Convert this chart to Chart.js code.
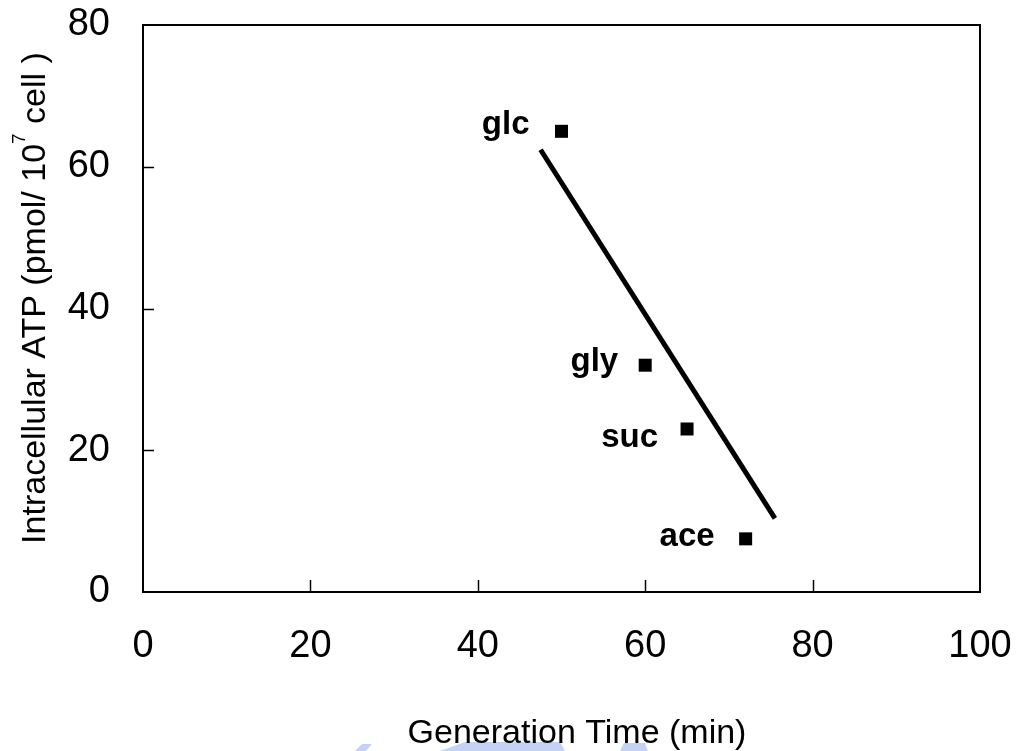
<!DOCTYPE html>
<html><head><meta charset="utf-8">
<script src="https://cdn.jsdelivr.net/npm/chart.js@4"></script>
<style>html,body{margin:0;padding:0;background:#fff;}#wrap{width:1017px;height:751px;}</style>
</head><body><div id="wrap"><canvas id="c" width="1017" height="751"></canvas></div>
<script>
// ---- data ----
const categories = ['glc', 'gly', 'suc', 'ace'];
const generationTime = [50, 60, 65, 72];
const intracellularATP = [65, 32, 23, 7.5];
const trendX = [47.5, 75.5];
const trendY = [62.4, 10.4];
const xTickValues = [0, 20, 40, 60, 80, 100];
const yTickValues = [0, 20, 40, 60, 80];
const xTitle = 'Generation Time (min)';
const yTitleParts = ['Intracellular ATP (pmol/ 10', '7', ' cell )'];

// ---- styling / placement (not data) ----
const FONT = '"Liberation Sans", Arial, sans-serif';
const labelOffsets = [[-32, 3], [-27, 6], [-29, 18], [-31, 7]];

const pointData = generationTime.map((x, i) => ({ x: x, y: intracellularATP[i] }));
const trendData = trendX.map((x, i) => ({ x: x, y: trendY[i] }));

function zeroPad(s) { s.paddingTop = 0; s.paddingBottom = 0; s.paddingLeft = 0; s.paddingRight = 0; }

const decorPlugin = {
  id: 'decor',
  beforeDraw(chart) {
    const ctx = chart.ctx;
    ctx.save();
    ctx.fillStyle = '#fff';
    ctx.fillRect(0, 0, chart.width, chart.height);
    // faint watermark at bottom
    ctx.fillStyle = 'rgba(140,165,228,0.5)';
    ctx.beginPath();
    ctx.moveTo(355, 751); ctx.lineTo(362, 744); ctx.lineTo(372, 744); ctx.lineTo(366, 751); ctx.closePath(); ctx.fill();
    ctx.beginPath();
    ctx.moveTo(440, 751); ctx.lineTo(465, 742); ctx.lineTo(560, 742); ctx.lineTo(565, 751); ctx.closePath(); ctx.fill();
    ctx.beginPath();
    ctx.moveTo(620, 751); ctx.lineTo(624, 743); ctx.lineTo(645, 743); ctx.lineTo(648, 751); ctx.closePath(); ctx.fill();
    ctx.restore();
  },
  afterDraw(chart) {
    const { ctx, chartArea: a } = chart;
    const xs = chart.scales.x, ys = chart.scales.y;
    ctx.save();
    ctx.strokeStyle = '#000';
    ctx.lineWidth = 2;
    ctx.beginPath();
    ctx.moveTo(a.left - 1, a.top);
    ctx.lineTo(a.right, a.top);
    ctx.lineTo(a.right, a.bottom + 1);
    ctx.stroke();
    ctx.lineWidth = 1.5;
    xTickValues.forEach(v => {
      if (v <= xs.min || v >= xs.max) return;
      const px = Math.round(xs.getPixelForValue(v)) + 0.5;
      ctx.beginPath(); ctx.moveTo(px, a.bottom); ctx.lineTo(px, a.bottom - 12); ctx.stroke();
    });
    yTickValues.forEach(v => {
      if (v <= ys.min || v >= ys.max) return;
      const py = Math.round(ys.getPixelForValue(v)) + 0.5;
      ctx.beginPath(); ctx.moveTo(a.left, py); ctx.lineTo(a.left + 11, py); ctx.stroke();
    });
    ctx.fillStyle = '#000';
    ctx.font = 'bold 33px ' + FONT;
    ctx.textAlign = 'right';
    ctx.textBaseline = 'alphabetic';
    categories.forEach((c, i) => {
      const px = xs.getPixelForValue(generationTime[i]);
      const py = ys.getPixelForValue(intracellularATP[i]);
      ctx.fillText(c, px + labelOffsets[i][0], py + labelOffsets[i][1]);
    });
    ctx.font = '34px ' + FONT;
    ctx.textAlign = 'center';
    ctx.fillText(xTitle, 577, 743);
    const mainFont = '34px ' + FONT, supFont = '19px ' + FONT;
    ctx.font = mainFont; const w0 = ctx.measureText(yTitleParts[0]).width;
    ctx.font = supFont; const w1 = ctx.measureText(yTitleParts[1]).width;
    ctx.font = mainFont; const w2 = ctx.measureText(yTitleParts[2]).width;
    const total = w0 + w1 + w2;
    ctx.translate(45, 298);
    ctx.rotate(-Math.PI / 2);
    ctx.textAlign = 'left';
    let sx = -total / 2;
    ctx.font = mainFont; ctx.fillText(yTitleParts[0], sx, 0); sx += w0;
    ctx.font = supFont; ctx.fillText(yTitleParts[1], sx, -20); sx += w1;
    ctx.font = mainFont; ctx.fillText(yTitleParts[2], sx, 0);
    ctx.restore();
  }
};

new Chart(document.getElementById('c'), {
  type: 'scatter',
  data: {
    datasets: [
      {
        label: 'ATP',
        data: pointData,
        pointStyle: 'rect',
        pointRadius: 9.2,
        pointHoverRadius: 9.2,
        backgroundColor: '#000',
        borderColor: '#000',
        borderWidth: 0,
        showLine: false
      },
      {
        label: 'trend',
        data: trendData,
        showLine: true,
        borderColor: '#000',
        borderWidth: 5,
        borderCapStyle: 'butt',
        pointRadius: 0,
        fill: false
      }
    ]
  },
  options: {
    responsive: false,
    animation: false,
    events: [],
    layout: { padding: { top: 25, right: 37, left: 0, bottom: 0 } },
    plugins: { legend: { display: false }, tooltip: { enabled: false } },
    scales: {
      x: {
        type: 'linear', min: 0, max: 100,
        afterBuildTicks: s => { s.ticks = xTickValues.map(v => ({ value: v })); },
        afterFit: s => { s.height = 159; zeroPad(s); },
        ticks: { color: '#000', font: { family: FONT, size: 38 }, padding: 32, maxRotation: 0, autoSkip: false },
        grid: { display: false, drawTicks: false },
        border: { display: true, color: '#000', width: 2 }
      },
      y: {
        type: 'linear', min: 0, max: 80,
        afterBuildTicks: s => { s.ticks = yTickValues.map(v => ({ value: v })); },
        afterFit: s => { s.width = 143; zeroPad(s); },
        ticks: { color: '#000', font: { family: FONT, size: 38 }, padding: 33, autoSkip: false },
        grid: { display: false, drawTicks: false },
        border: { display: true, color: '#000', width: 2 }
      }
    }
  },
  plugins: [decorPlugin]
});
</script>
</body></html>
